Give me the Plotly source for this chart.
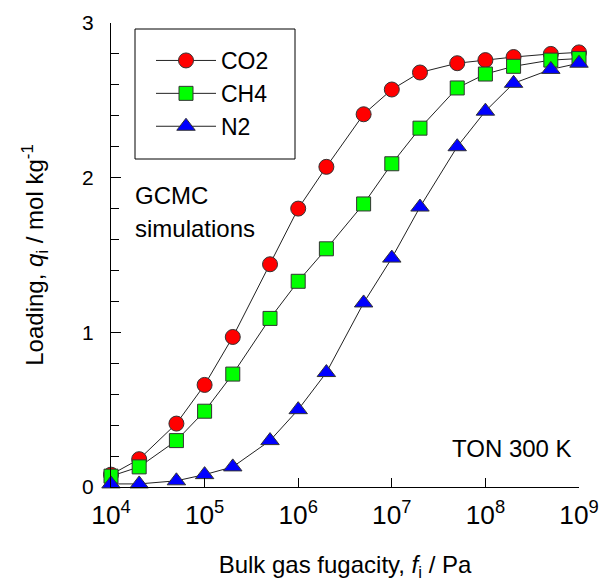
import plotly.graph_objects as go

fugacity = [1e4, 2e4, 5e4, 1e5, 2e5, 5e5, 1e6, 2e6, 5e6, 1e7, 2e7, 5e7, 1e8, 2e8, 5e8, 1e9]
co2 = [0.08, 0.18, 0.41, 0.66, 0.97, 1.44, 1.80, 2.07, 2.41, 2.57, 2.68, 2.74, 2.76, 2.78, 2.80, 2.81]
ch4 = [0.07, 0.13, 0.30, 0.49, 0.73, 1.09, 1.33, 1.54, 1.83, 2.09, 2.32, 2.58, 2.67, 2.72, 2.76, 2.77]
n2 = [0.02, 0.02, 0.04, 0.08, 0.13, 0.30, 0.50, 0.74, 1.19, 1.48, 1.81, 2.20, 2.43, 2.61, 2.70, 2.74]

series = [
    ("CO2", co2, "circle", "#ff0000", 15),
    ("CH4", ch4, "square", "#00ff00", 14),
    ("N2", n2, "triangle-up", "#0000ff", 16),
]

FONT = "Liberation Sans, Arial, sans-serif"

# plot area in pixels
L, R, T, B = 111, 22, 23, 96
W, H = 601 - L - R, 583 - T - B


def px(x):
    return (x - L) / W


def py(y):
    return (583 - B - y) / H


fig = go.Figure()
for name, vals, sym, col, sz in series:
    fig.add_trace(go.Scatter(
        x=fugacity, y=vals, name=name, mode="lines+markers", cliponaxis=False,
        line=dict(color="#222222", width=1),
        marker=dict(symbol=sym, size=sz, color=col, line=dict(color="#333333", width=1)),
    ))

fig.update_layout(
    width=601, height=583,
    margin=dict(l=L, r=R, t=T, b=B, autoexpand=False),
    paper_bgcolor="white", plot_bgcolor="white",
    font=dict(family=FONT, size=21, color="black"),
    showlegend=True,
    legend=dict(
        x=px(151), y=py(39), xanchor="left", yanchor="top",
        borderwidth=0, bgcolor="rgba(0,0,0,0)",
        font=dict(size=23), itemwidth=60, tracegroupgap=0,
    ),
    xaxis=dict(
        type="log", range=[4, 9], showgrid=False, zeroline=False, automargin=False,
        showline=True, linecolor="black", linewidth=1,
        ticks="inside", ticklen=9, tickcolor="black",
        dtick=1, exponentformat="power", showexponent="all",
        tickfont=dict(size=21), ticklabelstandoff=6,
        title=dict(text="Bulk gas fugacity, <i>f</i><sub>i</sub> / Pa", font=dict(size=24), standoff=26),
    ),
    yaxis=dict(
        range=[0, 3], showgrid=False, zeroline=False, automargin=False,
        showline=True, linecolor="black", linewidth=1,
        ticks="inside", ticklen=10, tickcolor="black",
        tickvals=[0, 1, 2, 3], tickfont=dict(size=21), ticklabelstandoff=12,
        minor=dict(dtick=0.2, ticks="inside", ticklen=8, tickcolor="black", showgrid=False),
        title=dict(text="Loading, <i>q</i><sub>i</sub> / mol kg<sup>-1</sup>", font=dict(size=24), standoff=31),
    ),
)

# legend frame
fig.add_shape(
    type="rect", xref="paper", yref="paper",
    x0=px(135), x1=px(295), y0=py(159), y1=py(29),
    line=dict(color="black", width=1), fillcolor="rgba(0,0,0,0)", layer="above",
)

fig.add_annotation(
    xref="paper", yref="paper", x=px(133), y=py(196),
    xanchor="left", yanchor="middle", showarrow=False,
    text="GCMC", font=dict(size=24),
)
fig.add_annotation(
    xref="paper", yref="paper", x=px(133), y=py(228),
    xanchor="left", yanchor="middle", showarrow=False,
    text="simulations", font=dict(size=24),
)
fig.add_annotation(
    xref="paper", yref="paper", x=px(574), y=py(448),
    xanchor="right", yanchor="middle", showarrow=False,
    text="TON 300 K", font=dict(size=24),
)

fig.write_html("out.html")
